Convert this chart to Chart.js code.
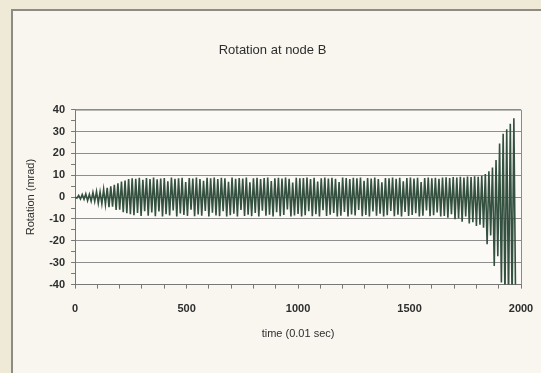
<!DOCTYPE html>
<html>
<head>
<meta charset="utf-8">
<script src="https://cdn.jsdelivr.net/npm/chart.js@4.4.1/dist/chart.umd.min.js"></script>
<style>
  html, body { margin: 0; padding: 0; width: 541px; height: 373px; overflow: hidden; background: #efe9d7; }
  #frame { position: absolute; left: 11px; top: 9px; width: 540px; height: 380px; border: 2px solid #8d8b84; background: #f8f6ee; box-sizing: border-box; }
  #c { position: absolute; left: 0; top: 0; }
</style>
</head>
<body>
<div id="frame"></div>
<canvas id="c" width="541" height="373"></canvas>
<script>
// Chart title and axis titles
const chartTitle = "Rotation at node B";
const xAxisTitle = "time (0.01 sec)";
const yAxisTitle = "Rotation (mrad)";

// sample interval of the values below, in time units (0.01 sec)
const sampleStep = 8;

// rotation (mrad), successive half-cycle extremes
const rotationGrowth = [
  0, -0.5, 0.8, -0.9, 1.2, -1.0, 1.5, -1.6, 1.3, -1.9, 2.2, -2.0, 2.6, -2.8, 2.4, -3.1,
  3.6, -3.4, 4.2, -4.6, 4.9, -4.4, 5.6, -5.9, 6.3, -5.8, 7.1, -6.9, 7.6, -7.4, 8.2, -7.8
];
const rotationSteady = [
  8.6, -8.3, 8.4, -7.2, 8.8, -8.6, 7.9, -6.4, 8.7, -8.5, 8.3, -7.0, 8.9, -8.7, 8.1, -6.6,
  8.5, -8.8, 8.7, -7.8, 7.2, -8.4, 8.9, -6.1, 8.4, -8.9, 8.6, -7.5, 8.8, -8.2, 6.9, -8.6,
  8.7, -5.8, 8.5, -8.7, 8.9, -7.9, 8.3, -8.5, 7.4, -6.3, 8.8, -8.8, 8.6, -7.1, 8.9, -8.4,
  8.2, -8.7, 8.8, -6.5, 8.6, -8.9, 7.0, -8.3, 8.9, -7.6, 8.4, -8.8, 8.7, -5.9, 8.5, -8.6,
  8.9, -8.1, 6.8, -8.7, 8.6, -7.3, 8.8, -8.9, 8.3, -6.2, 8.7, -8.5, 8.9, -8.0, 7.3, -8.8,
  8.6, -6.9, 8.8, -8.7, 8.5, -8.2, 8.9, -5.7, 8.4, -8.8, 6.7, -8.4, 8.8, -7.7, 8.6, -8.9,
  8.7, -8.3, 8.9, -6.4, 8.2, -8.7, 8.8, -7.8, 7.1, -8.9, 8.6, -6.0, 8.9, -8.6, 8.5, -8.1,
  8.8, -7.2, 8.4, -8.8, 6.9, -8.5, 8.9, -6.8, 8.7, -8.9, 8.3, -7.9, 8.8, -8.4, 8.6, -5.9,
  8.9, -8.7, 7.4, -8.2, 8.7, -8.8, 8.5, -6.6, 8.9, -8.5, 8.2, -7.6, 6.8, -8.9, 8.7, -8.3,
  8.6, -6.3, 8.9, -8.7, 8.4, -8.0, 8.8, -8.9, 7.2, -6.8, 8.7, -8.6, 8.9, -8.2, 8.5, -7.4,
  8.8, -8.8, 6.9, -8.5, 8.7, -6.1, 8.9, -8.7, 8.6, -8.3, 8.8, -7.0, 8.4, -8.9, 9.0, -8.6
];
const rotationUnstable = [
  9.1, -9.4, 8.7, -7.8, 9.2, -10.1, 8.9, -9.6, 9.3, -11.2, 9.0, -8.9, 9.4, -12.0, 9.2, -11.5,
  9.5, -13.2, 9.3, -12.6, 9.7, -14.0, 10.5, -21.5, 11.8, -17.5, 13.5, -31.5, 17.0, -27.0, 24.5, -39.0,
  29.0, -46.0, 31.0, -47.0, 33.5, -48.0, 36.0, -50.0
];

// axis ranges and tick labels
const xMin = 0, xMax = 2000, xMinorStep = 100, xLabelStep = 500;
const yMin = -40, yMax = 40, yMinorStep = 5, yLabelStep = 10;

const rotation = rotationGrowth.concat(rotationSteady, rotationUnstable);
const points = rotation.map((v, i) => ({ x: i * sampleStep, y: v }));

const FONT = "'Liberation Sans', Arial, sans-serif";
const TXT = '#2e2e2e';

const plotFrame = {
  id: 'plotFrame',
  beforeDraw(chart) {
    const { ctx, chartArea: a } = chart;
    ctx.save();
    ctx.fillStyle = '#fbfaf6';
    ctx.fillRect(a.left, a.top, a.right - a.left, a.bottom - a.top);
    ctx.restore();
  },
  afterDraw(chart) {
    const { ctx, chartArea: a } = chart;
    ctx.save();
    ctx.strokeStyle = '#8a8a8a';
    ctx.lineWidth = 1;
    ctx.beginPath();
    ctx.moveTo(a.left, a.top + 0.5);
    ctx.lineTo(a.right + 0.5, a.top + 0.5);
    ctx.lineTo(a.right + 0.5, a.bottom);
    ctx.stroke();
    ctx.restore();
  }
};

new Chart(document.getElementById('c'), {
  type: 'line',
  data: {
    datasets: [{
      data: points,
      borderColor: '#34503f',
      borderWidth: 1.6,
      pointRadius: 0,
      tension: 0,
      fill: false
    }]
  },
  options: {
    responsive: false,
    animation: false,
    events: [],
    layout: { padding: { left: 24, right: 20, top: 0, bottom: 32 } },
    plugins: {
      legend: { display: false },
      tooltip: { enabled: false },
      title: {
        display: true,
        text: chartTitle,
        color: TXT,
        font: { family: FONT, size: 13, weight: 'normal' },
        padding: { top: 43, bottom: 51 }
      }
    },
    scales: {
      x: {
        type: 'linear',
        min: xMin, max: xMax,
        afterFit: s => { s.paddingRight = 14; s.paddingLeft = 4; },
        ticks: {
          stepSize: xMinorStep,
          autoSkip: false,
          maxRotation: 0,
          color: TXT,
          font: { family: FONT, size: 11, weight: 'bold' },
          padding: 14,
          callback: v => (v % xLabelStep === 0 ? String(v) : '')
        },
        grid: { drawOnChartArea: false, drawTicks: true, tickLength: 4, tickColor: '#777' },
        border: { color: '#777', width: 1 },
        title: {
          display: true, text: xAxisTitle, color: TXT,
          font: { family: FONT, size: 11, weight: 'normal' },
          padding: { top: -2, bottom: 0 }
        }
      },
      y: {
        min: yMin, max: yMax,
        ticks: {
          stepSize: yMinorStep,
          autoSkip: false,
          color: TXT,
          font: { family: FONT, size: 11, weight: 'bold' },
          padding: 6,
          callback: v => (v % yLabelStep === 0 ? String(v) : '')
        },
        grid: {
          color: ctx => (ctx.tick && ctx.tick.value % yLabelStep === 0 ? '#8e8e8e' : 'rgba(0,0,0,0)'),
          lineWidth: 1,
          drawTicks: true,
          tickLength: 4,
          tickColor: '#777'
        },
        border: { color: '#777', width: 1 },
        title: {
          display: true, text: yAxisTitle, color: TXT,
          font: { family: FONT, size: 11, weight: 'normal' },
          padding: { top: 0, bottom: 6 }
        }
      }
    }
  },
  plugins: [plotFrame]
});
</script>
</body>
</html>
